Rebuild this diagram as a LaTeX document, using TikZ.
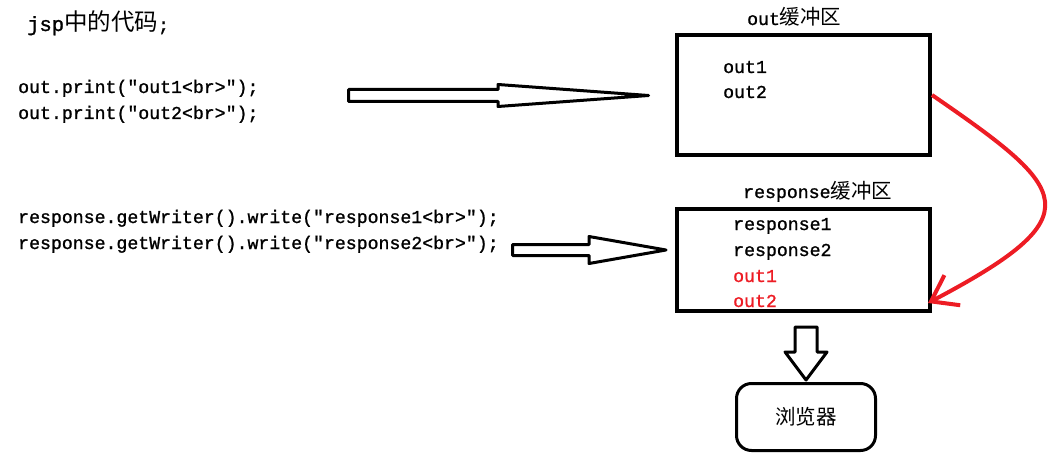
\documentclass[tikz,border=0pt]{standalone}
\usepackage{fontspec}
\newfontfamily\codefont[FakeBold=1.2]{Liberation Mono}
\newfontfamily\cjk{Noto Sans CJK SC}
\usetikzlibrary{arrows.meta}
\definecolor{penred}{RGB}{237,28,36}
\tikzset{
  buffer/.style={draw, line width=4pt, minimum width=253pt, inner sep=0pt},
  codeline/.style={anchor=base west, inner sep=0pt, font=\codefont\fontsize{18.2}{22}\selectfont},
  cjktext/.style={font=\cjk\fontsize{20.5}{24}\selectfont},
  blockarrow/.style={draw, line width=3pt, line join=round},
}
\begin{document}
\begin{tikzpicture}[x=1pt, y=-1pt]
		\useasboundingbox (0,0) rectangle (1048,457);
		% % Heading
		 	\node[codeline] (title) at (27,31)
		 		{{\fontsize{20.5}{24}\selectfont jsp}{\cjk\fontsize{23.5}{26}\selectfont 中的代码};};
		% % Code lines
		 	\foreach \n/\y/\txt in {
  		 		a/93/{out.print(″out1<br>″);},
  		 		b/119/{out.print(″out2<br>″);},
  		 		c/223/{response.getWriter().write(″response1<br>″);},
  		 		d/249/{response.getWriter().write(″response2<br>″);}}{
  		 		\node[codeline] (code\n) at (18,\y) {\txt};
		 	}
		% % Buffers
		 	\node[buffer, minimum height=120pt] (outbuf) at (803.5,95) {};
		 	\node[buffer, minimum height=102pt] (respbuf) at (803.5,260) {};
		 	\node[codeline] (outlabel) at (747,25) {out{\cjk\fontsize{20.5}{24}\selectfont 缓冲区}};
		 	\node[codeline] (resplabel) at (743,198) {response{\cjk\fontsize{20.5}{24}\selectfont 缓冲区}};
		 	\node[codeline] (outa) at (723,73) {out1};
		 	\node[codeline] (outb) at (723,98) {out2};
		 	\foreach \n/\y/\txt/\col in {
  		 		a/230/response1/black,
  		 		b/256/response2/black,
  		 		c/282/out1/penred,
  		 		d/307/out2/penred}{
  		 		\node[codeline, text=\col] (resp\n) at (733,\y) {\txt};
		 	}
		% % Browser
		 	\node[draw, line width=3pt, rounded corners=15pt, minimum width=139pt, minimum height=67pt,
		 		cjktext] (browser) at (806,417) {浏览器};
		% % Block arrows: left end / head start / tip / centre / shaft / head
		 	\foreach \xa/\xb/\xt/\yc/\s/\h in {
  		 		348.5/498/648.5/95.5/6/11,
  		 		512.5/589/666/250/5.5/13.5}{
  		 		\draw[blockarrow] (\xa,\yc-\s) -- (\xb,\yc-\s) -- (\xb,\yc-\h) -- (\xt,\yc)
  		 			-- (\xb,\yc+\h) -- (\xb,\yc+\s) -- (\xa,\yc+\s) -- cycle;
		 	}
		 	\draw[blockarrow] (795,327) -- (817,327) -- (817,352) -- (827,352) -- (806,380)
		 		-- (785,352) -- (795,352) -- cycle;
		% % Red move
		 	\coordinate (tip) at (928,303);
		 	\draw[penred, line width=4pt, -{Straight Barb[length=24pt, width=34pt]}]
		 		(outbuf.east) .. controls (1070,190) and (1095,215) .. (tip);
\end{tikzpicture}
\end{document}
